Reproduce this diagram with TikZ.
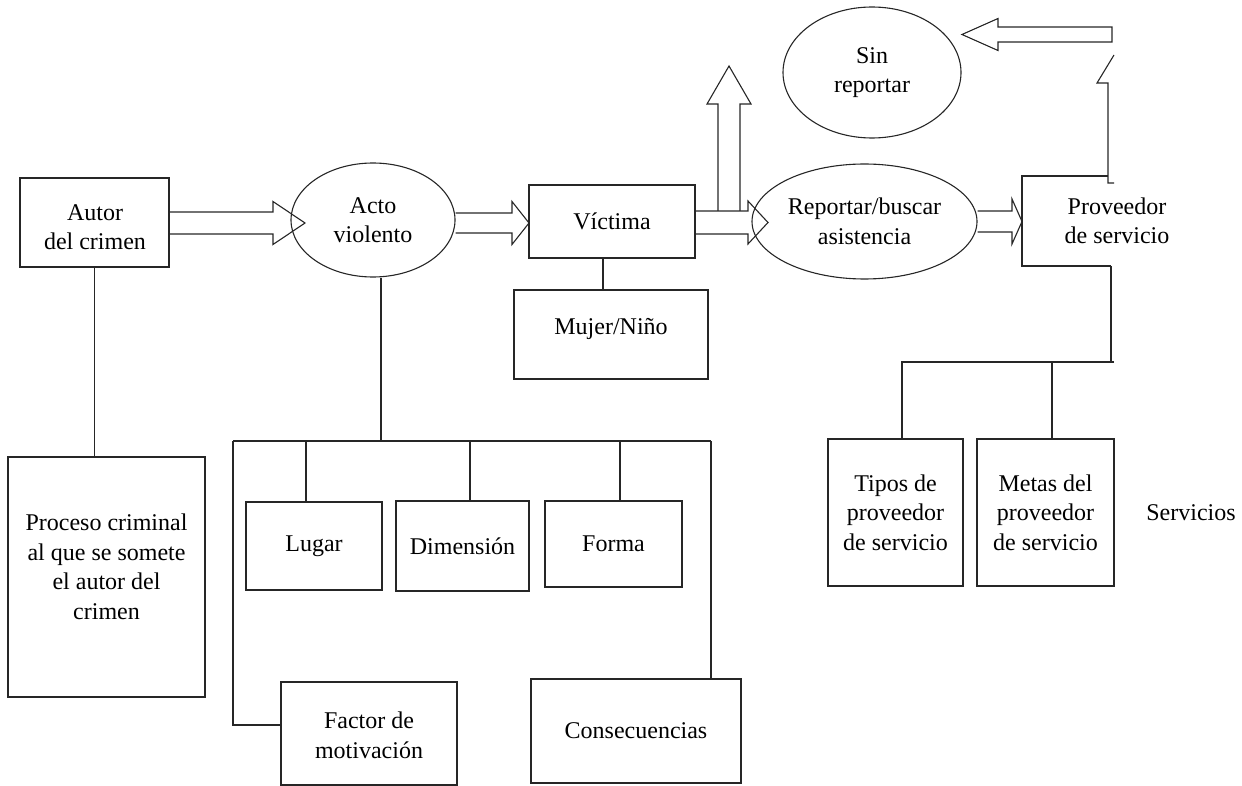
\documentclass[tikz,border=0pt]{standalone}
\usepackage{fontspec}
\setmainfont{Liberation Serif}
\usetikzlibrary{shapes.geometric,calc}
\newcommand\fs{\fontsize{24}{29.5}\selectfont}
% horizontal block arrow: #1 start, #2 tip, #3 shaft half width, #4 head half width, #5 head length (signed), #6 closing
\newcommand\harrow[6]{%
  \draw[ln] let \p1=(#1), \p2=(#2) in
    (\x1,{\y2+(#3pt)}) -- ({\x2-(#5pt)},{\y2+(#3pt)}) -- ({\x2-(#5pt)},{\y2+(#4pt)}) -- (\x2,\y2)
    -- ({\x2-(#5pt)},{\y2-(#4pt)}) -- ({\x2-(#5pt)},{\y2-(#3pt)}) -- (\x1,{\y2-(#3pt)}) #6;}
\begin{document}
\begin{tikzpicture}[x=1pt,y=-1pt,
  ln/.style={draw=black!85,line width=1.1pt,line join=miter},
  box/.style={ln,rectangle,align=center,inner sep=0pt,font=\fs},
  ell/.style={ln,ellipse,align=center,inner sep=0pt,font=\fs},
  txt/.style={align=center,inner sep=0pt,font=\fs}]
\useasboundingbox (0,0) rectangle (1242,786);

% nodes
\node[box,minimum width=149,minimum height=89] (autor) at (94.5,222.5) {};
\node[txt] (autortxt) at (95,227) {Autor\\del crimen};
\node[ell,minimum width=164,minimum height=114] (acto) at (373,220) {Acto\\violento};
\node[box,minimum width=166,minimum height=73] (victima) at (612,221.5) {Víctima};
\node[box,minimum width=194,minimum height=89] (mujer) at (611,334.5) {};
\node[txt] (mujertxt) at (611,329) {Mujer/Niño};
\node[ell,minimum width=225,minimum height=115] (reportar) at (864.5,221.5) {Reportar/buscar\\asistencia};
\node[ell,minimum width=178,minimum height=131] (sin) at (872,72.5) {Sin\\reportar};
\node[txt] (prov) at (1117,221) {Proveedor\\de servicio};
\node[box,minimum width=197,minimum height=240] (proceso) at (106.5,577) {};
\node[txt] (procesotxt) at (106.5,567) {Proceso criminal\\al que se somete\\el autor del\\crimen};
\node[box,minimum width=136,minimum height=88] (lugar) at (314,546) {Lugar};
\node[box,minimum width=133,minimum height=90] (dim) at (462.5,546) {Dimensión};
\node[box,minimum width=137,minimum height=86] (forma) at (613.5,544) {Forma};
\node[box,minimum width=176,minimum height=103] (factor) at (369,733.5) {};
\node[txt] (factortxt) at (369,735.5) {Factor de\\motivación};
\node[box,minimum width=210,minimum height=104] (cons) at (636,731) {Consecuencias};
\node[box,minimum width=135,minimum height=147] (tipos) at (895.5,512.5) {Tipos de\\proveedor\\de servicio};
\node[box,minimum width=137,minimum height=147] (metas) at (1045.5,512.5) {Metas del\\proveedor\\de servicio};
\node[txt] (serv) at (1191,513) {Servicios};

% partial box of the service provider (cut at the right edge)
\coordinate (pTL) at (1022,176);
\coordinate (pTR) at (1108,176);
\coordinate (pBL) at (1022,266);
\coordinate (pBR) at (1111,266);
\draw[ln] (pTR) -- (pTL) -- (pBL) -- (pBR);

% plain connectors
\draw[ln] (autor.south) -- (autor.south |- proceso.north);
\draw[ln] ([xshift=-9pt]victima.south) -- ([xshift=-9pt]victima.south |- mujer.north);

\coordinate (bus) at (381,441);
\coordinate (busL) at (233,441);
\coordinate (busR) at (711,441);
\coordinate (fw) at ([yshift=8.5pt]factor.west);
\draw[ln] (acto.south -| bus) -- (bus);
\draw[ln] (busL) -- (busR);
\draw[ln] ([xshift=-8pt]lugar.north |- busL) -- ([xshift=-8pt]lugar.north);
\draw[ln] ([xshift=7.5pt]dim.north |- busL) -- ([xshift=7.5pt]dim.north);
\draw[ln] ([xshift=6.5pt]forma.north |- busL) -- ([xshift=6.5pt]forma.north);
\draw[ln] (busL) -- (busL |- fw) -- (fw);
\draw[ln] (busR) -- (busR |- cons.north);

\coordinate (rbus) at (1111,362);
\coordinate (rbusR) at (1114,362);
\draw[ln] (pBR) -- (rbus);
\draw[ln] (rbusR) -- ([xshift=6.5pt]tipos.north |- rbus) -- ([xshift=6.5pt]tipos.north);
\draw[ln] ([xshift=6.5pt]metas.north |- rbus) -- ([xshift=6.5pt]metas.north);

% break line above the provider box
\coordinate (z1) at (1114,55);
\coordinate (z2) at (1097,83);
\coordinate (z3) at (1108,83);
\coordinate (z4) at (1108,183);
\coordinate (z5) at (1114,183);
\draw[ln] (z1) -- (z2) -- (z3) -- (z4) -- (z5);

% block arrows
\coordinate (t1) at (305,223);
\harrow{autor.east}{t1}{11}{21.5}{32}{}
\coordinate (t2) at (529,223);
\harrow{acto.east}{t2}{10}{21.5}{17}{}
\coordinate (t3) at (768,222.5);
\harrow{victima.east}{t3}{11.5}{21.5}{20}{}
\coordinate (t4) at (1022,221.5);
\harrow{reportar.east}{t4}{10.5}{22.5}{10}{}
\coordinate (s5) at (1112,34.5);
\coordinate (t5) at (962,34.5);
\harrow{s5}{t5}{7.5}{16}{-36}{-- cycle}

% upward block arrow from the Victima arrow
\coordinate (u0) at (729,211);
\coordinate (u1) at (729,66);
\draw[ln] let \p1=(u0), \p2=(u1) in
  ({\x1-11pt},\y1) -- ({\x1-11pt},{\y2-38pt}) -- ({\x1-22pt},{\y2-38pt}) -- (\x1,\y2)
  -- ({\x1+22pt},{\y2-38pt}) -- ({\x1+11pt},{\y2-38pt}) -- ({\x1+11pt},\y1);
\end{tikzpicture}
\end{document}
